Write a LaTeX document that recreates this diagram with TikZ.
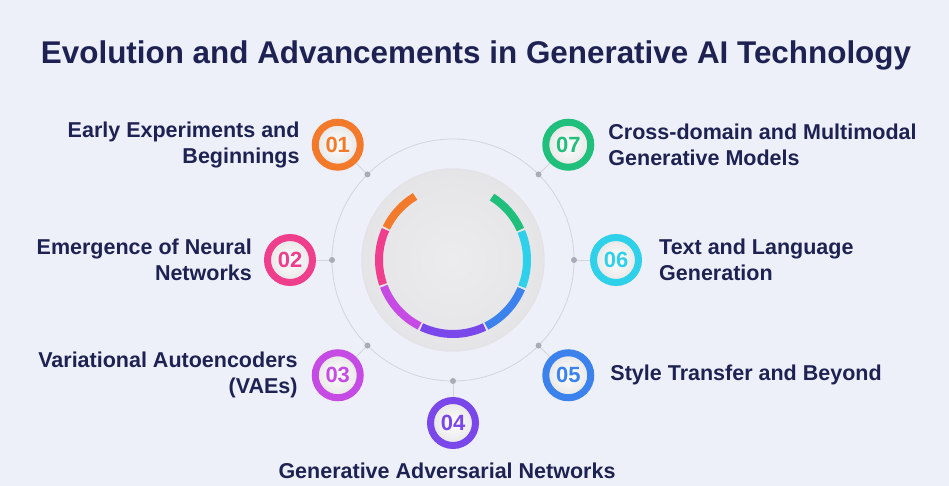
\documentclass[tikz,border=0pt]{standalone}
\usepackage{fontspec}
\setmainfont{Liberation Sans}
\usetikzlibrary{positioning,calc}

\definecolor{navy}{HTML}{1E2252}
\definecolor{bg}{HTML}{EEF0F9}
\definecolor{linegray}{HTML}{D3D5DE}
\definecolor{dotgray}{HTML}{A9ABB6}
\definecolor{hubgray}{HTML}{ECECEF}
\definecolor{hubedge}{HTML}{E3E3E7}
\definecolor{c01}{HTML}{F47A2B}
\definecolor{c02}{HTML}{EE3E8C}
\definecolor{c03}{HTML}{C64BE5}
\definecolor{c04}{HTML}{7A47EA}
\definecolor{c05}{HTML}{3B82EC}
\definecolor{c06}{HTML}{2FD0EA}
\definecolor{c07}{HTML}{20BF7B}

\begin{document}
\begin{tikzpicture}[x=1pt,y=1pt,
    numbox/.style={circle,minimum size=45pt,inner sep=0pt,line width=7pt,draw=#1,
      inner color=white,outer color=black!10,text=#1,
      font=\bfseries\fontsize{22}{22}\selectfont},
    lbl/.style={text=navy,font=\bfseries\fontsize{21.5}{26}\selectfont,inner sep=0pt},
    dot/.style={circle,fill=dotgray,minimum size=6pt,inner sep=0pt},
    conn/.style={draw=linegray,line width=0.8pt}]

  \useasboundingbox[fill=bg] (0,0) rectangle (949,486);

  \node[text=navy,font=\bfseries\fontsize{31.4}{36}\selectfont] (title) at (476,431)
    {Evolution and Advancements in Generative AI Technology};

  % centre: thin ring, grey disc and coloured segments
  \coordinate (hub) at (453,226);
  \draw[linegray,line width=0.8pt] (hub) circle[radius=121pt];
  \draw[hubedge,inner color=hubgray,outer color=hubgray!97!black,line width=1.5pt] (hub) circle[radius=91pt];
  \foreach \a/\b/\col [evaluate=\a as \s using \a+0.8,evaluate=\b as \e using \b-0.8]
      in {120/155/c01,155/200/c02,200/244/c03,244/296/c04,296/338/c05,338/383.5/c06,383.5/419/c07}
    \draw[\col,line width=8pt] ($(hub)+(\s:74pt)$) arc[start angle=\s,end angle=\e,radius=74pt];

  % numbered steps on the ring
  \foreach \i/\ang/\col in {1/135/c01,2/180/c02,3/225/c03,4/270/c04,5/315/c05,6/360/c06,7/45/c07}{
    \node[dot] (d\i) at ($(hub)+(\ang:121pt)$) {};
    \node[numbox=\col] (n\i) at ($(hub)+(\ang:163pt)$) {0\i};
    \draw[conn] (d\i) -- (n\i);
  }

  \node[lbl,align=right,left=12pt of n1] (t1) {Early Experiments and\\Beginnings};
  \node[lbl,align=right,left=12pt of n2] (t2) {Emergence of Neural\\Networks};
  \node[lbl,align=right,left=14pt of n3] (t3) {Variational Autoencoders\\(VAEs)};
  \node[lbl,below=14pt of n4,xshift=-6pt] (t4) {Generative Adversarial Networks};
  \node[lbl,right=16pt of n5] (t5) {Style Transfer and Beyond};
  \node[lbl,align=left,right=17pt of n6] (t6) {Text and Language\\Generation};
  \node[lbl,align=left,right=14pt of n7] (t7) {Cross-domain and Multimodal\\Generative Models};
\end{tikzpicture}
\end{document}
